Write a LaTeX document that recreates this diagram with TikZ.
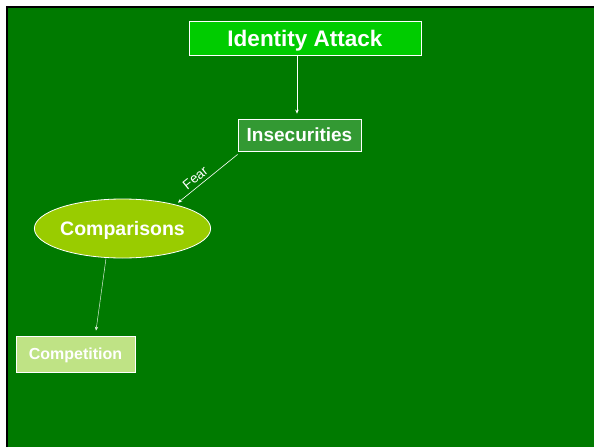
\documentclass[tikz,border=0pt]{standalone}
\usepackage{fontspec}
\setmainfont{Liberation Sans}
\usetikzlibrary{shapes.geometric,arrows.meta}
\definecolor{bggreen}{HTML}{007A00}
\definecolor{brightgreen}{HTML}{00CC00}
\definecolor{midgreen}{HTML}{339933}
\definecolor{limegreen}{HTML}{99CC00}
\definecolor{palegreen}{HTML}{BFE385}
\tikzset{
  box/.style={draw=white, line width=0.8pt, inner sep=0pt, text=white, text depth=0pt, font=\bfseries},
  arr/.style={draw=white, line width=0.6pt, -{Stealth[length=4pt,width=3.5pt]}},
}
\begin{document}
\begin{tikzpicture}[x=1pt,y=-1pt]
\useasboundingbox (0,0) rectangle (594,447);
% background panel with dark edge on top and left
\fill[white] (0,0) rectangle (594,447);
\fill[bggreen] (7,7) rectangle (594,447);
\draw[black, line width=2.2pt] (7,447) -- (7,7) -- (594,7);

\node[box, fill=brightgreen, minimum width=232pt, minimum height=34pt, font=\bfseries\fontsize{22.5}{26}\selectfont]
  (ia) at (305,38) {Identity Attack};
\node[box, fill=midgreen, minimum width=123pt, minimum height=32pt, font=\bfseries\fontsize{19}{22}\selectfont]
  (ins) at (299.5,135) {Insecurities};
\node[box, ellipse, fill=limegreen, minimum width=173pt, minimum height=59pt, font=\bfseries\fontsize{19.5}{22}\selectfont]
  (comp) at (122.5,228.5) {Comparisons};
\node[box, fill=palegreen, minimum width=119pt, minimum height=36pt, font=\bfseries\fontsize{16}{19}\selectfont]
  (cp) at (75.5,354) {Competition};

\draw[arr] ([xshift=-8pt]ia.south) -- ([xshift=-2.5pt,yshift=5pt]ins.north);
\draw[arr] ([yshift=-3pt]ins.south west) -- ([xshift=2pt,yshift=2pt]comp.24)
  node[pos=0.62, sloped, above, text=white, font=\fontsize{13.5}{15}\selectfont, inner sep=3.5pt] {Fear};
\draw[arr, draw=white!85!bggreen, line width=0.5pt] ([xshift=-16.5pt]comp.south) -- ([xshift=20.5pt,yshift=5pt]cp.north);
\end{tikzpicture}
\end{document}
